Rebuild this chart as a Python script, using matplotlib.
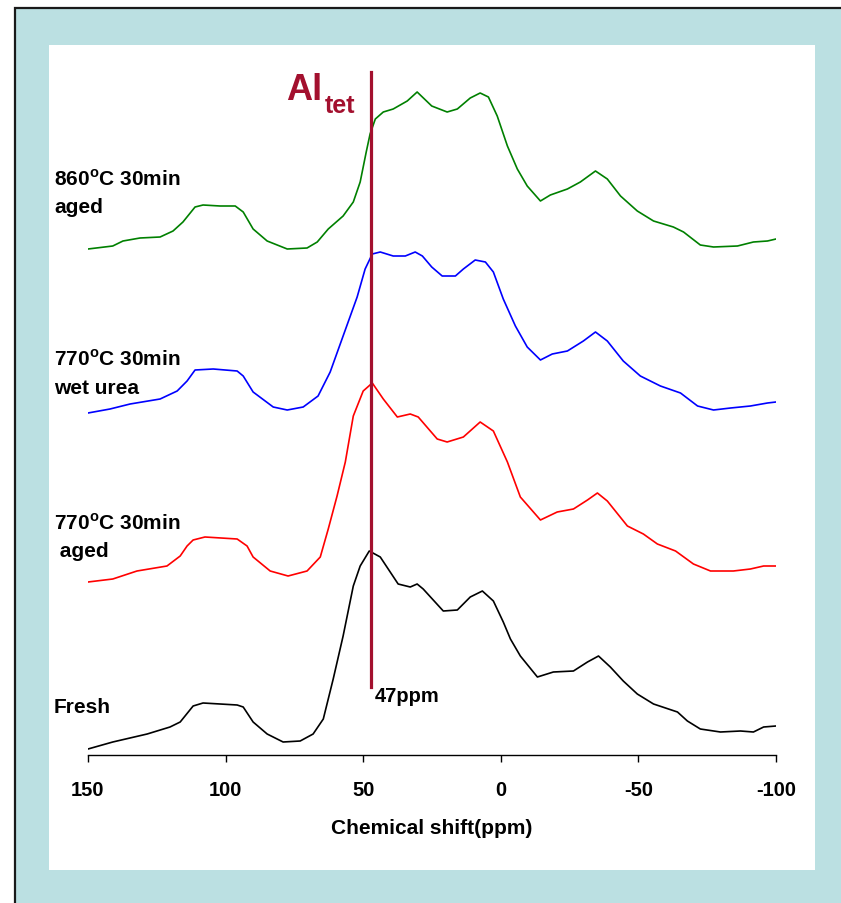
import matplotlib
matplotlib.use("Agg")
import matplotlib.pyplot as plt
from matplotlib.patches import Rectangle

plt.rcParams["font.family"] = ["Liberation Sans", "DejaVu Sans"]
plt.rcParams["font.weight"] = "bold"
plt.rcParams["mathtext.fontset"] = "custom"
plt.rcParams["mathtext.rm"] = "Liberation Sans:bold"
plt.rcParams["mathtext.bf"] = "Liberation Sans:bold"

# spectra: chemical shift (ppm) and intensity above own baseline
fresh_ppm = [150, 141, 128.5, 120.2, 116.5, 111.8, 108.2, 95.8, 93.6, 90, 84.9, 79.1, 72.9, 68.2,
             64.5, 60.9, 57.3, 53.6, 51.1, 47.8, 43.8, 37.3, 32.9, 30.4, 28.2, 20.9, 15.8, 11.1,
             6.7, 2.7, -0.9, -3.5, -7.1, -13.3, -19.1, -26.4, -31.5, -35.5, -39.8, -44.5, -49.6,
             -55.5, -64.2, -67.8, -72.5, -79.8, -87.1, -91.8, -95.5, -100]
fresh_int = [0, 7, 15, 22, 27, 43, 46, 44, 42, 27, 15, 7, 8, 15,
             30, 70, 113, 163, 183, 198, 192, 165, 162, 165, 160, 138, 139, 152,
             158, 148, 127, 110, 93, 72, 77, 78, 87, 93, 82, 68, 55,
             45, 37, 28, 20, 17, 18, 17, 22, 23]

aged770_ppm = [150, 141, 132.2, 121.3, 116.5, 114, 111.8, 107.5, 95.8, 92.2, 90, 83.8, 77.3, 70.4,
               65.6, 62.7, 59.5, 56.5, 53.6, 50, 46.7, 42.7, 37.6, 32.9, 30, 23.1, 19.5, 13.6,
               7.5, 2.7, -2.4, -7.1, -14.4, -20.5, -26.4, -31.5, -35.1, -38.7, -46, -51.8, -56.9,
               -63.5, -70, -76.2, -84.5, -90.7, -95.5, -100]
aged770_int = [0, 3, 11, 16, 26, 36, 42, 45, 43, 36, 25, 11, 6, 11,
               25, 53, 86, 120, 166, 191, 199, 183, 165, 168, 165, 143, 140, 145,
               160, 151, 120, 85, 62, 70, 73, 82, 89, 81, 56, 48, 38,
               31, 18, 11, 11, 13, 16, 16]

wet770_ppm = [150, 142, 134.7, 123.8, 117.6, 114, 111.1, 104.5, 95.8, 93.6, 90, 82.7, 77.6, 71.8,
              66.4, 62, 57.3, 52.2, 49.3, 46.7, 43.8, 39.1, 34.7, 31.1, 28.5, 25.1, 21.3, 16.5,
              13.6, 9.3, 5.6, 2.7, -0.9, -5.3, -9.6, -14.4, -18.7, -24.2, -30, -34.4, -38.7,
              -44.5, -50.7, -58, -65.3, -71.5, -77.3, -83.5, -90.7, -96.9, -100]
wet770_int = [0, 4, 9, 14, 22, 32, 43, 44, 42, 37, 21, 6, 3, 6,
              17, 41, 77, 116, 144, 159, 161, 157, 157, 161, 157, 146, 137, 137,
              144, 153, 151, 141, 114, 87, 66, 53, 59, 62, 72, 81, 72,
              52, 37, 27, 20, 7, 3, 5, 7, 10, 11]

aged860_ppm = [150, 141, 137.3, 131.1, 123.8, 119.1, 115.5, 111.1, 108.2, 102, 96.5, 93.6, 90, 84.9,
               77.6, 70.4, 66.7, 62.7, 57.3, 53.6, 51.1, 48.9, 47.5, 45.6, 42.7, 39.1, 34, 30.4,
               25.1, 19.5, 15.8, 11.1, 7.5, 4.5, 1.3, -2.4, -6, -9.6, -14.4, -18, -24.2, -28.9,
               -34.4, -38.7, -43.5, -49.6, -55.5, -62.7, -66.4, -72.5, -77.3, -86, -91.8, -96.9, -100]
aged860_int = [0, 3, 8, 11, 12, 18, 27, 42, 44, 43, 43, 37, 20, 8,
               0, 1, 7, 20, 33, 47, 67, 97, 115, 130, 137, 140, 148, 157,
               143, 137, 140, 151, 156, 152, 133, 103, 80, 63, 48, 54, 60, 67,
               78, 70, 53, 38, 28, 22, 17, 4, 2, 3, 7, 8, 10]

spectra = [
    (fresh_ppm, fresh_int, "black"),
    (aged770_ppm, aged770_int, "#FF0000"),
    (wet770_ppm, wet770_int, "#0000FF"),
    (aged860_ppm, aged860_int, "#008000"),
]
offsets = [6, 173, 342, 506]

xticks = [150, 100, 50, 0, -50, -100]
al_tet_ppm = 47
dark_red = "#A3102E"
teal = "#BBE0E2"

W, H = 841, 904
fig = plt.figure(figsize=(W / 100, H / 100), dpi=100, facecolor="white")

def fx(px):
    return px / W

def fy(py):
    return 1 - py / H

# teal frame with black border, white panel
fig.patches.append(Rectangle((fx(15), fy(960)), fx(900), 951 / H, transform=fig.transFigure,
                             facecolor=teal, edgecolor="#1a1a1a", linewidth=1.6, zorder=-2))
fig.patches.append(Rectangle((fx(49), fy(871)), fx(766), 825 / H, transform=fig.transFigure,
                             facecolor="white", edgecolor="none", zorder=-1))

ax = fig.add_axes([fx(88), fy(756), fx(776 - 88), 700 / H])
ax.set_facecolor("none")
for (ppm, inten, col), off in zip(spectra, offsets):
    ax.plot(ppm, [v + off for v in inten], color=col, lw=1.2)

ax.plot([al_tet_ppm, al_tet_ppm], [68, 683], color=dark_red, lw=2.3)

ax.set_xlim(150, -100)
ax.set_ylim(0, 700)
ax.set_xticks(xticks)
ax.set_xticklabels([str(t) for t in xticks], fontsize=14.5, fontweight="bold")
ax.set_yticks([])
for s in ["left", "top", "right"]:
    ax.spines[s].set_visible(False)
ax.spines["bottom"].set_linewidth(1.0)
ax.tick_params(axis="x", direction="out", length=5, width=1, pad=13)
ax.set_xlabel("Chemical shift(ppm)", fontsize=15, fontweight="bold", labelpad=14)

# annotations
fig.text(fx(286), fy(100), "Al", color=dark_red, fontsize=26, fontweight="bold", va="baseline")
fig.text(fx(325), fy(113), "tet", color=dark_red, fontsize=18, fontweight="bold", va="baseline")
fig.text(fx(375), fy(702), "47ppm", fontsize=14.5, fontweight="bold", va="baseline")

label_lines = [
    ("860$^{\\mathbf{o}}$C 30min", 186),
    ("aged", 213),
    ("770$^{\\mathbf{o}}$C 30min", 366),
    ("wet urea", 394),
    ("770$^{\\mathbf{o}}$C 30min", 530),
    (" aged", 557),
    ("Fresh", 713),
]
for txt, y in label_lines:
    fig.text(fx(54), fy(y), txt, fontsize=15, fontweight="bold", va="baseline")

fig.savefig("out.png", dpi=100, facecolor=fig.get_facecolor())
